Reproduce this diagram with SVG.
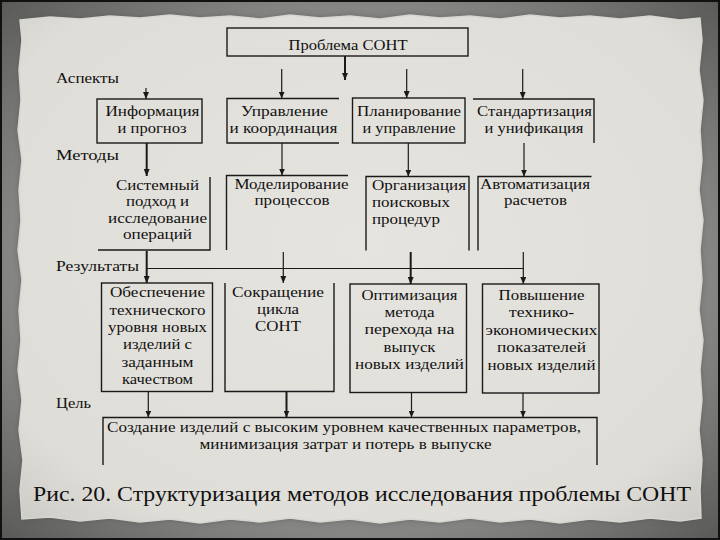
<svg xmlns="http://www.w3.org/2000/svg" width="720" height="540" viewBox="0 0 720 540">
<defs>
<radialGradient id="bg" cx="50%" cy="50%" r="70%">
<stop offset="0" stop-color="#9c9c9a"/>
<stop offset="0.7" stop-color="#858583"/>
<stop offset="1" stop-color="#5a5a59"/>
</radialGradient>
<radialGradient id="pp" cx="50%" cy="45%" r="75%">
<stop offset="0" stop-color="#e6e4df"/>
<stop offset="0.8" stop-color="#dfddd7"/>
<stop offset="1" stop-color="#cccac4"/>
</radialGradient>
<filter id="sh" x="-5%" y="-5%" width="110%" height="110%">
<feGaussianBlur stdDeviation="3"/>
</filter>
<marker id="ar" markerUnits="userSpaceOnUse" markerWidth="7" markerHeight="6" refX="7" refY="3" orient="auto">
<path d="M0,0 L7,3 L0,6 z" fill="#1a1a1a"/>
</marker>
<style>
.box{fill:none;stroke:#1a1a1a;stroke-width:1.4}
.ln{fill:none;stroke:#1a1a1a;stroke-width:1.2}
.thk{stroke-width:2}
.t{font-family:'Liberation Serif',serif;font-size:15px;fill:#111;text-anchor:middle}
.l{text-anchor:start}
.lbl{font-family:'Liberation Serif',serif;font-size:14px;fill:#111}
.cap{font-family:'Liberation Serif',serif;font-size:22px;fill:#111;text-anchor:middle}
</style>
</defs>
<rect x="0" y="0" width="720" height="540" fill="url(#bg)"/>
<path id="paperShadow" filter="url(#sh)" fill="#4a4a4a" opacity="0.6" d="M20,20 L50,17 L80,19 L110,16 L140,18 L170,15 L200,18 L230,16 L260,19 L290,15 L320,18 L350,16 L380,19 L410,15 L440,18 L470,16 L500,19 L530,15 L560,18 L590,16 L620,19 L650,16 L680,20 L700,18 L702,40 L699,70 L703,100 L700,130 L702,160 L699,190 L703,220 L700,250 L702,280 L699,310 L703,340 L700,370 L702,400 L699,430 L702,460 L700,490 L701,518 L680,521 L650,518 L620,522 L590,519 L560,523 L530,519 L500,522 L470,518 L440,522 L410,519 L380,523 L350,519 L320,522 L290,518 L260,522 L230,519 L200,523 L170,519 L140,522 L110,518 L80,521 L50,517 L22,519 L20,490 L23,460 L19,430 L22,400 L18,370 L21,340 L19,310 L22,280 L18,250 L21,220 L19,190 L22,160 L18,130 L21,100 L19,70 L22,40 Z"/>
<path id="paper" fill="url(#pp)" stroke="#d8d6d0" stroke-width="1.5" d="M20,20 L50,17 L80,19 L110,16 L140,18 L170,15 L200,18 L230,16 L260,19 L290,15 L320,18 L350,16 L380,19 L410,15 L440,18 L470,16 L500,19 L530,15 L560,18 L590,16 L620,19 L650,16 L680,20 L700,18 L702,40 L699,70 L703,100 L700,130 L702,160 L699,190 L703,220 L700,250 L702,280 L699,310 L703,340 L700,370 L702,400 L699,430 L702,460 L700,490 L701,518 L680,521 L650,518 L620,522 L590,519 L560,523 L530,519 L500,522 L470,518 L440,522 L410,519 L380,523 L350,519 L320,522 L290,518 L260,522 L230,519 L200,523 L170,519 L140,522 L110,518 L80,521 L50,517 L22,519 L20,490 L23,460 L19,430 L22,400 L18,370 L21,340 L19,310 L22,280 L18,250 L21,220 L19,190 L22,160 L18,130 L21,100 L19,70 L22,40 Z"/>
<rect x="1" y="1" width="718" height="538" fill="none" stroke="#111" stroke-width="2"/>

<g id="labels">
<text class="lbl" x="56" y="83" textLength="63" lengthAdjust="spacingAndGlyphs">Аспекты</text>
<text class="lbl" x="56" y="160" textLength="63" lengthAdjust="spacingAndGlyphs">Методы</text>
<text class="lbl" x="56" y="270.5" font-size="13" textLength="83" lengthAdjust="spacingAndGlyphs">Результаты</text>
<text class="lbl" x="56" y="408" textLength="35" lengthAdjust="spacingAndGlyphs">Цель</text>
</g>

<g id="connectors">
<path class="ln thk" d="M345,56 V80" marker-end="url(#ar)"/>
<path class="ln" d="M146,88 V99" marker-end="url(#ar)"/>
<path class="ln" d="M281.7,69 V98.5" marker-end="url(#ar)"/>
<path class="ln" d="M406.7,69 V98" marker-end="url(#ar)"/>
<path class="ln" d="M522.7,69 V99" marker-end="url(#ar)"/>
<path class="ln thk" d="M146.7,143 V176" marker-end="url(#ar)"/>
<path class="ln" d="M282,143 V175.5" marker-end="url(#ar)"/>
<path class="ln" d="M408.3,143 V176.5" marker-end="url(#ar)"/>
<path class="ln" d="M524,143 V176.5" marker-end="url(#ar)"/>
<path class="ln" d="M147,268.5 H523.5"/>
<path class="ln thk" d="M146.7,251 V283" marker-end="url(#ar)"/>
<path class="ln" d="M283.3,252 V283" marker-end="url(#ar)"/>
<path class="ln thk" d="M410.7,252 V284" marker-end="url(#ar)"/>
<path class="ln" d="M523.3,252 V284" marker-end="url(#ar)"/>
<path class="ln" d="M148.3,391.5 V417.5" marker-end="url(#ar)"/>
<path class="ln thk" d="M286.5,391.5 V417.5" marker-end="url(#ar)"/>
<path class="ln" d="M411.5,392.5 V417.5" marker-end="url(#ar)"/>
<path class="ln" d="M523,393 V417.5" marker-end="url(#ar)"/>
</g>

<g id="title">
<rect class="box" x="227" y="28" width="241" height="28"/>
<text class="t" x="348" y="50" textLength="119" lengthAdjust="spacingAndGlyphs">Проблема СОНТ</text>
</g>

<g id="aspect1">
<rect class="box" x="97" y="99" width="105" height="44"/>
<text class="t" x="152.5" y="115.5" textLength="94" lengthAdjust="spacingAndGlyphs">Информация</text>
<text class="t" x="152" y="132.5" textLength="69" lengthAdjust="spacingAndGlyphs">и прогноз</text>
</g>
<g id="aspect2">
<path class="box" d="M339,98.5 H227 V143 H339"/>
<text class="t" x="284.5" y="115.5" textLength="87" lengthAdjust="spacingAndGlyphs">Управление</text>
<text class="t" x="283.5" y="132.5" textLength="108" lengthAdjust="spacingAndGlyphs">и координация</text>
</g>
<g id="aspect3">
<rect class="box" x="352.5" y="98" width="112.5" height="45"/>
<text class="t" x="409" y="115.5" textLength="104" lengthAdjust="spacingAndGlyphs">Планирование</text>
<text class="t" x="409" y="132.5" textLength="93" lengthAdjust="spacingAndGlyphs">и управление</text>
</g>
<g id="aspect4">
<path class="box" d="M473,99 H594 V143"/>
<text class="t" x="534.5" y="115.5" textLength="115" lengthAdjust="spacingAndGlyphs">Стандартизация</text>
<text class="t" x="534" y="132.5" textLength="99" lengthAdjust="spacingAndGlyphs">и унификация</text>
</g>

<g id="method1">
<path class="box" d="M98,250 H210 V177"/>
<text class="t" x="157.5" y="189.5" textLength="83" lengthAdjust="spacingAndGlyphs">Системный</text>
<text class="t" x="157.5" y="206" textLength="63" lengthAdjust="spacingAndGlyphs">подход и</text>
<text class="t" x="157.5" y="222.5" textLength="99" lengthAdjust="spacingAndGlyphs">исследование</text>
<text class="t" x="157.5" y="239" textLength="69" lengthAdjust="spacingAndGlyphs">операций</text>
</g>
<g id="method2">
<path class="box" d="M348,175.5 H226.5 V250"/>
<text class="t" x="291.5" y="189" textLength="114" lengthAdjust="spacingAndGlyphs">Моделирование</text>
<text class="t" x="292" y="205" textLength="75" lengthAdjust="spacingAndGlyphs">процессов</text>
</g>
<g id="method3">
<path class="box" d="M366,250.5 V176.5 H469 V250.5"/>
<text class="t l" x="372" y="190" textLength="94" lengthAdjust="spacingAndGlyphs">Организация</text>
<text class="t l" x="372" y="207" textLength="78" lengthAdjust="spacingAndGlyphs">поисковых</text>
<text class="t l" x="372" y="224" textLength="68" lengthAdjust="spacingAndGlyphs">процедур</text>
</g>
<g id="method4">
<path class="box" d="M591.5,176.5 H478 V250.5"/>
<text class="t" x="535" y="189" textLength="110" lengthAdjust="spacingAndGlyphs">Автоматизация</text>
<text class="t" x="535.5" y="205" textLength="63" lengthAdjust="spacingAndGlyphs">расчетов</text>
</g>

<g id="result1">
<rect class="box" x="101.5" y="283" width="111" height="108.5"/>
<text class="t" x="157.5" y="297" textLength="95" lengthAdjust="spacingAndGlyphs">Обеспечение</text>
<text class="t" x="157.5" y="314.5" textLength="96" lengthAdjust="spacingAndGlyphs">технического</text>
<text class="t" x="157.5" y="332" textLength="99" lengthAdjust="spacingAndGlyphs">уровня новых</text>
<text class="t" x="157.5" y="349" textLength="69" lengthAdjust="spacingAndGlyphs">изделий с</text>
<text class="t" x="157.5" y="366.5" textLength="72" lengthAdjust="spacingAndGlyphs">заданным</text>
<text class="t" x="157.5" y="384" font-size="13.5" textLength="71" lengthAdjust="spacingAndGlyphs">качеством</text>
</g>
<g id="result2">
<path class="box" d="M225,283 V391.5 H334 V283"/>
<text class="t" x="278" y="297" textLength="92" lengthAdjust="spacingAndGlyphs">Сокращение</text>
<text class="t" x="278" y="314" textLength="42" lengthAdjust="spacingAndGlyphs">цикла</text>
<text class="t" x="278" y="331" textLength="46" lengthAdjust="spacingAndGlyphs">СОНТ</text>
</g>
<g id="result3">
<rect class="box" x="350" y="284" width="116.5" height="108.5"/>
<text class="t" x="409.5" y="299.5" textLength="96" lengthAdjust="spacingAndGlyphs">Оптимизация</text>
<text class="t" x="409.5" y="317" textLength="50" lengthAdjust="spacingAndGlyphs">метода</text>
<text class="t" x="409.5" y="334" textLength="90" lengthAdjust="spacingAndGlyphs">перехода на</text>
<text class="t" x="409.5" y="351.5" textLength="52" lengthAdjust="spacingAndGlyphs">выпуск</text>
<text class="t" x="409.5" y="369" textLength="109" lengthAdjust="spacingAndGlyphs">новых изделий</text>
</g>
<g id="result4">
<rect class="box" x="482.5" y="284" width="116.5" height="109"/>
<text class="t" x="541.5" y="299.5" textLength="86" lengthAdjust="spacingAndGlyphs">Повышение</text>
<text class="t" x="541.5" y="317" textLength="65" lengthAdjust="spacingAndGlyphs">технико-</text>
<text class="t" x="541.5" y="334.5" textLength="112" lengthAdjust="spacingAndGlyphs">экономических</text>
<text class="t" x="541.5" y="352" textLength="89" lengthAdjust="spacingAndGlyphs">показателей</text>
<text class="t" x="541.5" y="369.5" textLength="108" lengthAdjust="spacingAndGlyphs">новых изделий</text>
</g>

<g id="goal">
<path class="box" d="M103,465 V417.5 H597 V465"/>
<text class="t" x="344" y="431.5" textLength="474" lengthAdjust="spacingAndGlyphs">Создание изделий с высоким уровнем качественных параметров,</text>
<text class="t" x="345.5" y="448.5" textLength="292" lengthAdjust="spacingAndGlyphs">минимизация затрат и потерь в выпуске</text>
</g>

<g id="caption">
<text class="cap" x="362" y="501" textLength="658" lengthAdjust="spacingAndGlyphs">Рис. 20. Структуризация методов исследования проблемы СОНТ</text>
</g>
</svg>
